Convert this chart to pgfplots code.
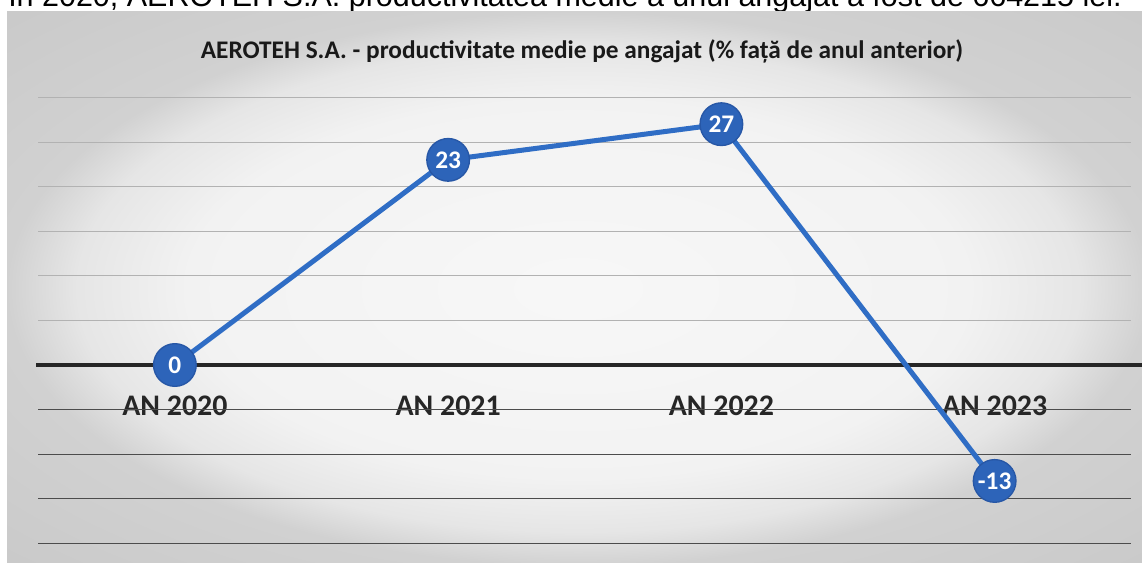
\documentclass[border=0pt]{standalone}
\usepackage{graphicx}
\usepackage{pgfplots}
\usepackage{pgfplotstable}
\pgfplotsset{compat=1.18}
\usepackage{fontspec}
\setmainfont{Carlito}
\newfontfamily\arial{Liberation Sans}
\definecolor{lineblue}{HTML}{2F6DC5}
\definecolor{markblue}{HTML}{2D64B9}
\definecolor{markedge}{HTML}{2757A6}
\pgfdeclareradialshading{panel}{\pgfpoint{0bp}{0bp}}{color(0bp)=(white!97!black); color(17bp)=(white!95!black); color(22bp)=(white!90!black); color(25bp)=(white!82!black); color(50bp)=(white!75!black)}
\pgfplotstableread{
x y lab
0 0 0
1 23 23
2 27 27
3 -13 -13
}\datatab
\begin{document}
\begin{tikzpicture}
\useasboundingbox (0,0) rectangle (856.5pt,422.25pt);
\begin{scope}
\clip (0,0) rectangle (856.5pt,422.25pt);
\fill[white] (0,0) rectangle (856.5pt,422.25pt);
\node[anchor=base west, inner sep=0pt] at (6pt,417pt) {\resizebox{835pt}{!}{\arial În 2020, AEROTEH S.A. productivitatea medie a unui angajat a fost de 664215 lei.}};
\shade[shading=panel] (5.25pt,-2pt) rectangle (862pt,413.25pt);
\node[font=\bfseries\fontsize{19pt}{23pt}\selectfont, text=black!90] at (436.5pt,383.5pt) {AEROTEH S.A. - productivitate medie pe angajat (\% față de anul anterior)};
\begin{axis}[
  at={(28.7pt,1.32pt)}, anchor=south west,
  scale only axis, width=819.75pt, height=351.2pt,
  xmin=-0.5, xmax=3.5, ymin=-22, ymax=30.5,
  enlargelimits=false, clip=false,
  axis x line=middle, axis y line=left,
  y axis line style={draw=none},
  x axis line style={-, black!85, line width=2.4pt, shorten >=-8pt, shorten <=-1.5pt},
  xtick={0,1,2,3}, xticklabels={AN 2020,AN 2021,AN 2022,AN 2023},
  xtick style={draw=none},
  xticklabel style={anchor=center, yshift=-28.5pt, font=\bfseries\fontsize{22.4pt}{26pt}\selectfont, text=black!85},
  ytick={5,10,...,30}, yticklabels={}, ytick style={draw=none},
  ymajorgrids, grid style={black!30, line width=0.6pt},
  extra y ticks={-20,-15,-10,-5}, extra y tick labels={},
  extra y tick style={grid style={black!70, line width=0.9pt}, tick style={draw=none}},
]
\addplot[color=lineblue, line width=3.75pt, line join=round,
  mark=*, mark size=16pt, mark options={fill=markblue, draw=markedge, line width=1pt},
  point meta=explicit symbolic, nodes near coords, nodes near coords align=center,
  every node near coord/.append style={font=\bfseries\fontsize{19pt}{22pt}\selectfont, text=white, anchor=center}]
  table[x=x, y=y, meta=lab] {\datatab};
\end{axis}
\end{scope}
\end{tikzpicture}
\end{document}
